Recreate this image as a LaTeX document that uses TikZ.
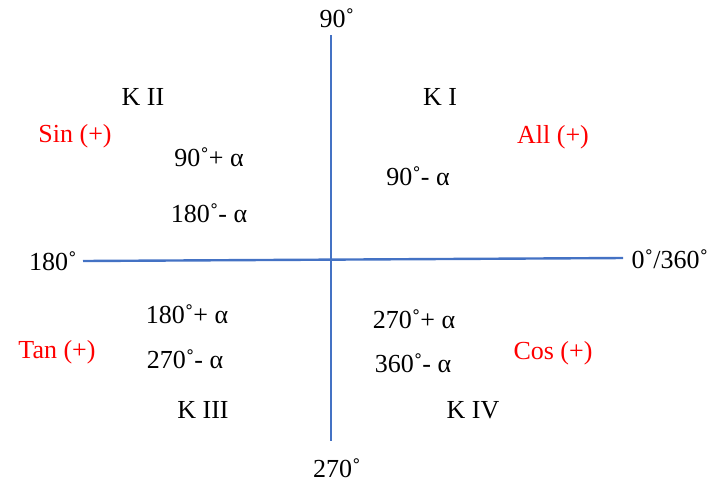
\documentclass[tikz,border=0pt]{standalone}
\usepackage{fontspec}
\setmainfont{Liberation Serif}
\definecolor{axisblue}{RGB}{68,114,196}
\definecolor{signred}{RGB}{255,0,0}
\begin{document}
\begin{tikzpicture}[x=1pt,y=-1pt,
  lbl/.style={font=\fontsize{26}{30}\selectfont, inner sep=0pt, text=black},
  sgn/.style={lbl, text=signred},
  axis/.style={draw=axisblue, line width=2.4pt}]
\useasboundingbox (0,0) rectangle (711,483);
\coordinate (top) at (331,35);
\coordinate (bot) at (331,441);
\coordinate (lft) at (83,261);
\coordinate (rgt) at (623,258);
\draw[axis] (top) -- (bot);
\draw[axis] (lft) -- (rgt);
\node[lbl] (a90) at (337,18) {90˚};
\node[lbl] (a270) at (337,468) {270˚};
\node[lbl] (a180) at (53,261) {180˚};
\node[lbl] (a0) at (670,259) {0˚/360˚};
\node[lbl] (k2) at (143,97) {K II};
\node[lbl] (k1) at (440,97) {K I};
\node[lbl] (k3) at (203,410) {K III};
\node[lbl] (k4) at (473,410) {K IV};
\node[sgn] (sin) at (75,136) {Sin (+)};
\node[sgn] (all) at (553,137) {All (+)};
\node[sgn] (tan) at (57,352) {Tan (+)};
\node[sgn] (cos) at (553,353) {Cos (+)};
\node[lbl] (q2a) at (209,157) {90˚+ α};
\node[lbl] (q2b) at (209,213) {180˚- α};
\node[lbl] (q1a) at (418,176) {90˚- α};
\node[lbl] (q3a) at (187,314) {180˚+ α};
\node[lbl] (q3b) at (185,359) {270˚- α};
\node[lbl] (q4a) at (414,319) {270˚+ α};
\node[lbl] (q4b) at (413,363) {360˚- α};
\end{tikzpicture}
\end{document}
